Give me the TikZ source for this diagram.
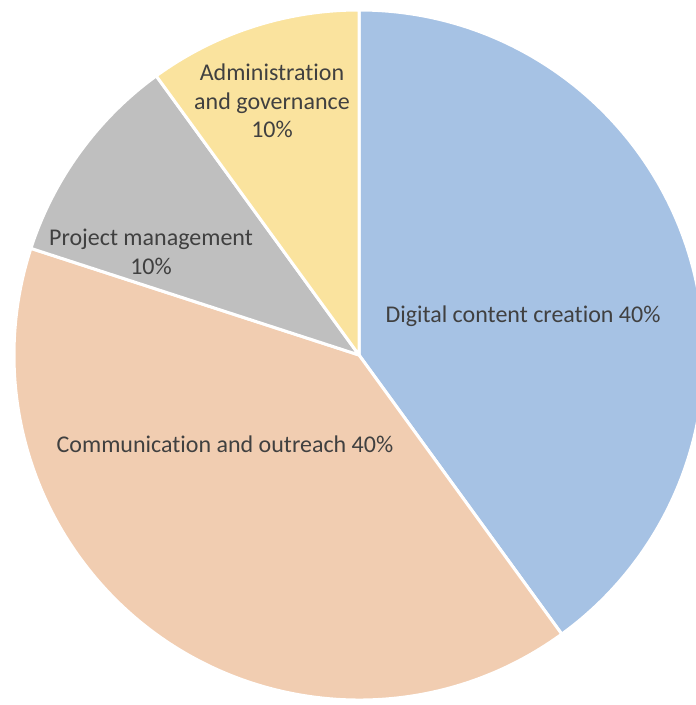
\documentclass[tikz,border=0pt]{standalone}
\usepackage{fontspec}
\setmainfont[Ligatures=NoCommon]{Carlito}
\definecolor{digital}{RGB}{166,194,228}
\definecolor{outreach}{RGB}{241,205,177}
\definecolor{project}{RGB}{191,191,191}
\definecolor{admin}{RGB}{250,227,158}
\definecolor{labelgray}{RGB}{64,64,64}
\begin{document}
\begin{tikzpicture}[x=1pt,y=1pt,
	slice/.style={draw=white,line width=3pt,line join=round},
	lbl/.style={text=labelgray,font=\fontsize{24}{28.5}\selectfont,align=center}]
	\useasboundingbox (0,0) rectangle (696,705);
	\coordinate (c) at (359,350);
	% slices, clockwise from the top
	\filldraw[slice,fill=digital] (c) -- ++(90:345pt) arc[start angle=90,end angle=-54,radius=345pt] -- cycle;
	\filldraw[slice,fill=outreach] (c) -- ++(-54:345pt) arc[start angle=-54,end angle=-198,radius=345pt] -- cycle;
	\filldraw[slice,fill=project] (c) -- ++(162:345pt) arc[start angle=162,end angle=126,radius=345pt] -- cycle;
	\filldraw[slice,fill=admin] (c) -- ++(126:345pt) arc[start angle=126,end angle=90,radius=345pt] -- cycle;
	% labels
	\node[lbl] (digitallbl) at (523,389) {Digital content creation 40\%};
	\node[lbl] (outreachlbl) at (225,261) {Communication and outreach 40\%};
	\node[lbl] (projectlbl) at (151,453) {Project management\\10\%};
	\node[lbl] (adminlbl) at (272,604) {Administration\\and governance\\10\%};
\end{tikzpicture}
\end{document}
